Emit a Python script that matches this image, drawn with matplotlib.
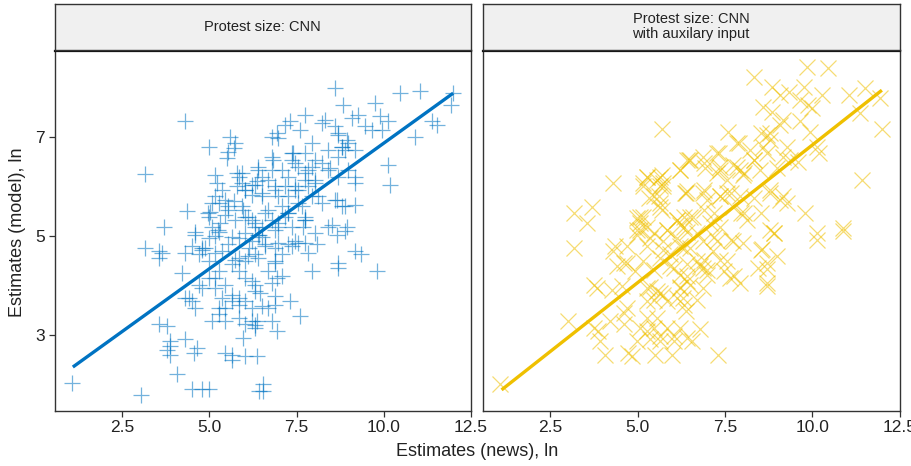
import matplotlib
matplotlib.use('Agg')
import matplotlib.pyplot as plt

plt.rcParams['font.family'] = ['Liberation Sans', 'DejaVu Sans']

# ---- data ----
cnn_pts = [
    (1.07,2.04),(3.04,1.8),(3.16,6.25),(4.3,7.32),(4.98,6.8),(5.6,6.99),(5.7,6.77),(5.51,6.57),(4.36,5.51),(3.69,5.19),(4.6,5.09),(5.03,5.49),
    (10.47,7.88),(11.04,7.93),(11.99,7.89),(11.94,7.64),(8.6,7.98),(8.84,7.64),(9.75,7.68),(7.74,7.44),(7.31,7.31),(8.32,7.34),(8.6,7.21),(9.08,7.38),
    (9.27,7.44),(9.9,7.41),(10.13,7.31),(9.94,7.14),(11.37,7.31),(11.52,7.24),(10.89,7.0),(7.6,7.14),(6.98,6.97),(7.93,6.87),(8.7,7.04),(8.94,6.94),
    (9.46,7.21),(9.65,7.14),(8.79,6.8),(9.17,6.74),(7.41,6.67),(6.83,6.54),(10.13,6.43),(10.18,6.03),(9.17,6.07),(8.46,6.37),(7.84,6.33),(7.26,6.2),
    (6.5,6.2),(6.88,5.93),(7.55,5.93),(8.12,5.8),(8.89,5.6),(9.17,5.63),(8.65,5.73),(7.74,5.39),(6.6,5.46),(7.17,5.39),(8.51,5.23),(8.94,5.19),
    (7.69,5.19),(6.88,5.13),
    (8.03,5.06),(8.89,5.1),(8.65,5.03),(7.55,4.86),(8.08,4.83),(7.84,4.66),(9.17,4.7),(9.36,4.63),(7.93,4.29),(8.7,4.36),(9.8,4.29),(6.88,4.49),
    (6.93,4.16),(6.79,4.06),(6.45,3.86),(6.88,3.79),(7.31,3.69),(6.88,3.62),(6.5,3.59),(7.6,3.39),(6.79,3.29),(6.93,3.09),(6.31,3.21),(6.55,1.88),(6.55,2.01),
    (3.17,4.76),(3.55,4.7),(3.64,4.66),(3.55,4.56),(4.22,4.26),(4.31,4.66),(4.5,4.8),(4.6,5.03),(4.7,4.63),(4.89,4.76),(4.98,4.96),(5.17,5.0),
    (5.36,4.7),(5.55,4.83),(5.84,4.96),(6.22,4.9),(6.32,4.63),(6.03,4.49),(5.65,4.43),(5.27,4.29),(4.98,4.16),(4.7,4.02),(4.41,3.76),(4.6,3.55),
    (4.5,3.69),(5.17,3.96),(5.36,3.76),(5.46,3.55),(5.65,3.69),(5.84,3.76),(6.03,3.69),(6.22,3.55),(5.27,3.43),(5.46,3.29),(5.84,3.35),(6.03,3.22),
    (6.22,3.29),(3.55,3.22),(3.79,3.19),(4.31,2.92),(3.88,2.89),(3.88,2.78),(3.79,2.71),(3.88,2.61),(4.65,2.75),(4.55,2.65),(5.46,2.65),(5.65,2.61),
    (6.03,2.58),(5.65,2.51),(5.98,2.95),(4.07,2.21),(4.5,1.91),(4.79,1.91),(4.98,1.91),(6.42,1.88),
    (5.17,6.23),(5.22,6.07),(5.36,5.93),(5.17,5.8),(5.27,5.66),(5.55,5.6),(5.7,5.7),(5.79,6.27),(5.84,6.2),(5.93,6.07),(5.79,6.0),(6.03,5.93),
    (6.22,6.03),(6.36,6.1),(6.41,6.4),(6.22,5.83),(5.98,5.53),(6.03,5.39),(6.22,5.33),(6.32,5.19),(5.74,5.33),(5.31,5.26),(5.08,5.19),(5.27,5.09),
    (5.46,5.43),(4.98,5.39),
    (6.79,6.6),(6.41,6.33),(6.69,6.13),(7.07,6.33),(7.36,6.54),(7.55,6.4),(7.74,6.27),(8.03,6.13),(8.22,6.47),(8.41,6.33),(8.7,6.6),(8.89,6.74),
    (8.98,6.87),(8.98,6.33),(9.17,6.2),(8.7,6.2),(7.45,6.0),(7.84,6.0),(6.88,6.0),(6.5,5.86),(7.26,5.8),(7.55,5.66),(7.93,5.8),(7.07,5.6),
    (6.69,5.53),(7.26,5.46),(7.74,5.33),(6.98,5.26),(6.5,5.19),(7.36,5.19),
    (4.79,4.76),(4.98,4.49),(5.84,4.56),(6.13,4.76),(6.42,5.03),(5.84,4.29),(6.03,4.16),(6.22,4.09),(5.46,4.02),(5.17,4.16),(6.32,3.89),(5.65,3.82),
    (5.84,3.62),(6.32,3.15),(5.27,3.55),(5.08,3.29),(4.79,3.96),(4.31,3.76),
    (6.41,5.03),(6.6,4.83),(6.88,4.76),(7.26,4.83),(7.45,4.9),(6.41,4.56),(7.07,4.63),(6.69,4.29),(7.07,4.19),(6.31,4.02),(6.69,3.55),(6.36,3.29),(6.36,2.58),
    (5.74,6.87),(5.54,6.7),(5.93,6.27),(6.31,6.03),(6.79,6.33),(6.79,7.0),(6.93,7.07),(7.36,6.67),(7.46,6.47),(7.74,6.67),(7.93,6.4),(7.74,6.13),
    (8.03,6.07),(7.46,5.93),(7.17,6.0),(6.98,5.8),(6.5,5.8),(6.02,5.93),(5.45,5.73),(5.07,5.66),(4.97,5.46),(5.54,5.53),(5.93,5.6),(6.12,5.39),
    (6.31,5.26),(6.79,5.33),(6.98,5.19),(7.26,5.46),(7.65,5.6),(7.74,5.33),(8.22,5.66),(8.41,5.19),(8.6,5.73),(8.79,5.6),(5.26,5.12),(5.64,4.99),
    (6.02,5.06),(6.5,4.99),(6.6,4.79),(6.98,4.86),(7.36,4.79),(7.74,4.86),(4.78,4.72),(5.16,4.66),(5.74,4.52),(6.12,4.59),(6.88,4.45),(8.7,4.45),
    (8.03,6.54),(8.41,6.74),(8.22,7.27),(7.17,7.24),(8.7,7.07),(8.79,6.8),
]
aux_pts = [
    (5.7,7.16),(4.31,6.07),(3.17,5.46),(3.69,5.59),(3.55,5.26),(5.17,6.07),(5.27,6.2),(5.56,6.13),(5.7,6.23),(5.65,6.0),(5.74,6.07),(5.32,5.76),
    (5.6,5.8),(5.65,5.66),(5.7,5.53),(6.22,6.33),(6.41,6.54),(6.37,5.86),(4.98,5.36),(5.17,5.39),(5.08,5.26),(5.27,5.19),(4.98,5.13),(6.13,5.33),
    (6.22,5.23),(6.32,5.39),(5.84,5.13),(6.41,5.09),
    (9.84,8.41),(10.46,8.38),(8.32,8.21),(8.84,8.01),(9.08,7.84),(9.32,7.91),(9.75,8.01),(9.65,7.74),(9.89,7.64),(9.99,7.58),(10.27,7.84),(11.04,7.84),
    (11.51,7.98),(11.95,7.78),(11.37,7.48),(11.99,7.16),(8.6,7.61),(8.84,7.51),(9.17,7.34),(9.08,7.24),(7.6,7.1),(7.84,6.87),(8.22,6.74),(8.7,7.04),
    (8.79,6.94),(8.6,6.8),(9.65,7.31),(9.94,7.1),(10.13,6.8),(10.18,6.67),(9.27,6.8),(9.17,6.6),(9.37,6.54),(9.6,6.5),(7.26,6.67),(7.36,6.4),
    (7.74,6.43),(7.93,6.33),(8.03,6.23),(8.32,6.54),(8.51,6.33),(8.98,6.37),(6.88,6.6),(6.5,6.54),(6.93,6.37),(7.26,6.27),(7.55,6.13),(6.4,5.86),
    (6.88,5.86),(6.98,5.73),(7.36,5.8),(7.55,5.86),(7.74,5.59),(7.97,5.46),(8.12,5.33),(8.32,5.76),(8.79,5.86),(9.08,5.73),(9.17,5.8),(9.27,5.66),
    (9.8,5.46),(11.42,6.13),(10.89,5.16),(6.6,5.39),(7.07,5.26),(7.36,5.19),(8.79,5.13),(10.13,5.07),
    (3.17,4.76),(4.36,4.8),(4.31,4.7),(4.41,4.39),(4.7,4.46),(3.74,4.02),(3.84,3.96),(4.27,3.92),(4.55,3.99),(4.93,4.29),(5.17,4.49),(4.98,5.03),
    (5.36,4.96),(5.74,4.9),(6.13,4.96),(6.32,4.76),(5.94,4.63),(5.65,4.56),(6.03,4.36),(6.22,4.22),(6.41,4.09),(5.27,3.96),(5.56,3.89),(5.74,3.82),
    (5.46,3.72),(5.27,3.69),(5.84,3.69),(6.13,3.76),(6.22,3.96),(6.32,3.62),(4.6,3.45),(4.7,3.55),(3.02,3.29),(3.74,3.15),(3.88,3.09),(3.93,2.88),
    (4.22,3.29),(4.6,3.22),(5.08,3.15),(5.27,3.09),(5.46,3.15),(5.65,2.98),(5.84,3.15),(6.03,2.98),(6.22,3.15),(4.98,2.88),(5.36,2.92),(5.65,2.88),
    (6.03,2.88),(5.56,3.35),(5.27,3.35),(6.41,2.95),(4.07,2.61),(4.74,2.65),(4.84,2.58),(5.51,2.61),(5.98,2.61),(1.07,2.01),
    (8.89,5.06),(10.13,4.93),(10.89,5.1),(8.55,4.73),(8.98,4.6),(8.46,4.36),(8.7,4.33),(7.93,4.06),(8.7,3.99),(7.55,4.49),(7.65,4.16),(7.46,4.29),
    (6.88,4.36),(6.98,4.22),(6.88,3.96),(6.69,3.72),(6.4,3.49),(6.79,3.12),(6.55,2.88),(7.31,2.61),(6.5,4.02),(7.26,4.9),(7.74,4.9),(8.03,4.86),
    (6.88,4.9),(6.5,4.76),(7.17,4.7),(6.69,4.49),(6.41,4.43),(6.31,3.76),
    (7.89,6.87),(8.52,7.07),(8.8,7.07),(6.46,6.54),(6.22,6.33),(6.89,6.47),(7.32,6.67),(7.37,6.33),(7.85,6.4),(8.04,6.27),(8.32,6.54),(8.71,6.67),
    (5.27,6.2),(5.65,6.2),(5.17,6.0),(5.74,6.0),(5.46,5.8),(6.41,5.9),(6.89,5.93),(7.37,5.8),(7.66,5.86),(7.94,5.8),(8.8,5.93),(5.65,5.59),
    (5.08,5.39),(6.13,5.33),(6.51,5.39),(6.89,5.53),(7.18,5.46),(8.04,5.46),(8.52,5.46),(8.9,5.06),(5.08,5.13),(5.46,5.06),(5.84,5.13),(6.32,5.19),
    (6.7,5.06),(7.18,4.99),(7.66,4.92),(4.7,4.79),(5.27,4.79),(5.74,4.72),(6.22,4.79),(6.89,4.52),(6.8,4.39),(6.99,4.32),(7.37,4.52),(7.75,4.19),
    (8.52,4.72),(8.71,4.45),(8.71,4.05),(5.46,4.32),(5.94,4.39),(5.36,3.98),(5.65,3.85),(6.22,3.98),(6.41,4.19),(4.6,4.45),
]
cnn_x = [p[0] for p in cnn_pts]
cnn_y = [p[1] for p in cnn_pts]
aux_x = [p[0] for p in aux_pts]
aux_y = [p[1] for p in aux_pts]

# fitted (lm) lines, endpoints
cnn_fit_x = [1.09, 11.99]
cnn_fit_y = [2.36, 7.88]
aux_fit_x = [1.11, 11.99]
aux_fit_y = [1.90, 7.94]

x_ticks = [2.5, 5.0, 7.5, 10.0, 12.5]
x_ticklabels = ["2.5", "5.0", "7.5", "10.0", "12.5"]
y_ticks = [3, 5, 7]
y_ticklabels = ["3", "5", "7"]
titles = ["Protest size: CNN", "Protest size: CNN\nwith auxilary input"]
x_label = "Estimates (news), ln"
y_label = "Estimates (model), ln"

blue = "#0073C2"
gold = "#EFC000"

W, H = 911, 466
fig = plt.figure(figsize=(W / 100, H / 100), dpi=100)

def rect(l, t, r, b):
    return [l / W, 1 - b / H, (r - l) / W, (b - t) / H]

panels = [(54.7, 471.0), (482.7, 899.7)]
ptop, pbot = 51.0, 410.7
stop, sbot = 4.0, 49.5

series = [
    (cnn_x, cnn_y, '+', blue, cnn_fit_x, cnn_fit_y),
    (aux_x, aux_y, 'x', gold, aux_fit_x, aux_fit_y),
]

for i, ((l, r), (xs, ys, mk, col, fx, fy)) in enumerate(zip(panels, series)):
    ax = fig.add_axes(rect(l, ptop, r, pbot))
    ax.plot(xs, ys, linestyle='none', marker=mk, markersize=12,
            markeredgewidth=0.9, color=col, alpha=0.55)
    ax.plot(fx, fy, color=col, linewidth=2.4, solid_capstyle='butt')
    ax.set_xlim(0.57, 12.49)
    ax.set_ylim(1.48, 8.73)
    ax.set_xticks(x_ticks)
    ax.set_xticklabels(x_ticklabels)
    ax.set_yticks(y_ticks)
    if i == 0:
        ax.set_yticklabels(y_ticklabels)
        ax.tick_params(axis='y', length=4, width=0.9, color='#333333',
                       labelsize=12.5, labelcolor='#222222', pad=3)
    else:
        ax.tick_params(axis='y', left=False, labelleft=False)
    ax.tick_params(axis='x', length=4, width=0.9, color='#333333',
                   labelsize=12.5, labelcolor='#222222', pad=3)
    for s in ax.spines.values():
        s.set_color('#333333')
        s.set_linewidth(1.0)
    ax.spines['top'].set_linewidth(1.6)
    ax.spines['top'].set_color('#111111')

    sax = fig.add_axes(rect(l, stop, r, sbot))
    sax.set_facecolor('#F0F0F0')
    sax.set_xticks([])
    sax.set_yticks([])
    for s in sax.spines.values():
        s.set_color('#333333')
        s.set_linewidth(1.0)
    sax.text(0.5, 0.5, titles[i], ha='center', va='center', fontsize=10.5,
             color='#222222', transform=sax.transAxes, linespacing=1.05)

fig.text(477 / W, 1 - 452 / H, x_label, ha='center', va='center',
         fontsize=13, color='#222222')
fig.text(18 / W, 1 - 232 / H, y_label, ha='center', va='center',
         rotation=90, fontsize=13, color='#222222')

fig.savefig('out.png', dpi=100)
